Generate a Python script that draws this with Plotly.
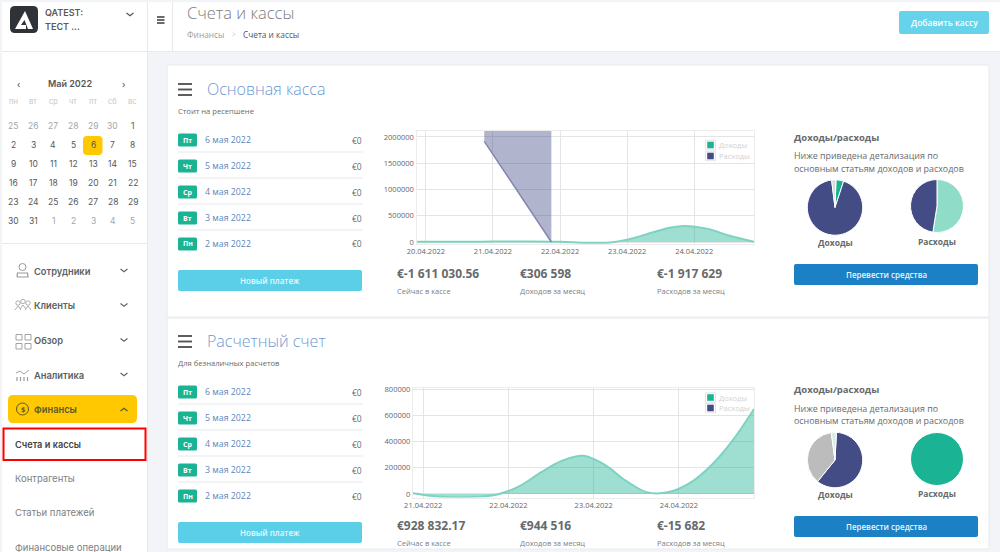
import plotly.graph_objects as go

W, H = 1000, 552

# ---------- data ----------
chart1_ticks = [20, 21, 22, 23, 24]
chart1_ticktext = ["20.04.2022", "21.04.2022", "22.04.2022", "23.04.2022", "24.04.2022"]
chart1_yticks = [0, 500000, 1000000, 1500000, 2000000]
chart1_income_x = [19.85, 20.5, 21.0, 21.5, 22.0, 22.4, 22.75, 23.0, 23.4, 23.65, 23.85, 24.2, 24.5, 24.89]
chart1_income_y = [3000, 5000, 8000, 10000, 5000, -12000, -8000, 45000, 190000, 275000, 305000, 250000, 130000, 5000]
chart1_expense_x = [20.87, 21.87]
chart1_expense_y = [1917629, 0]
chart1_expense_top = [2400000, 2400000]

chart2_ticks = [21, 22, 23, 24]
chart2_ticktext = ["21.04.2022", "22.04.2022", "23.04.2022", "24.04.2022"]
chart2_yticks = [0, 200000, 400000, 600000, 800000]
chart2_income_x = [20.88, 21.13, 21.38, 21.63, 21.88, 22.13, 22.38, 22.63, 22.88, 23.13, 23.38, 23.63, 23.88, 24.13, 24.38, 24.63, 24.88]
chart2_income_y = [5000, -18000, -27000, -22000, -2000, 60000, 165000, 255000, 292000, 222000, 100000, 12000, 15000, 85000, 220000, 410000, 650000]

pie_labels_a = ["Статья 1", "Статья 2", "Статья 3"]
pie1_income = [4.5, 93, 2.5]
pie1_expense = [52.5, 47.5]
pie2_income = [60, 37, 3]
pie2_expense = [100]

weekdays = ["пн", "вт", "ср", "чт", "пт", "сб", "вс"]
calendar_rows = [
    [25, 26, 27, 28, 29, 30, 1],
    [2, 3, 4, 5, 6, 7, 8],
    [9, 10, 11, 12, 13, 14, 15],
    [16, 17, 18, 19, 20, 21, 22],
    [23, 24, 25, 26, 27, 28, 29],
    [30, 31, 1, 2, 3, 4, 5],
]
menu_main = ["Сотрудники", "Клиенты", "Обзор", "Аналитика"]
menu_sub = ["Контрагенты", "Статьи платежей", "Финансовые операции"]
day_badges = ["Пт", "Чт", "Ср", "Вт", "Пн"]
day_dates = ["6 мая 2022", "5 мая 2022", "4 мая 2022", "3 мая 2022", "2 мая 2022"]
panel1_stats = ["€-1 611 030.56", "€306 598", "€-1 917 629"]
panel2_stats = ["€928 832.17", "€944 516", "€-15 682"]
stat_labels = ["Сейчас в кассе", "Доходов за месяц", "Расходов за месяц"]

# ---------- colours ----------
GREEN, NAVY = "#1ab394", "#434c85"
CYAN, BLUE = "#5bcfe8", "#1b80c4"
YELLOW = "#ffc800"
TXT, LINK = "#676a6c", "#5b88bd"
BG, BORDER = "#f3f4f8", "#e7eaec"
GREEN_FILL, GREEN_LINE = "rgba(26,179,148,0.42)", "#7dd3bf"
NAVY_FILL, NAVY_LINE = "rgba(67,76,133,0.42)", "#8487b0"
SANS, UI = "Open Sans", "Inter"

shapes, notes = [], []
px = lambda v: v / W
py = lambda v: 1 - v / H


def rect(x0, y0, x1, y1, fill=None, line=None, lw=1, layer="below"):
    shapes.append(dict(type="rect", xref="paper", yref="paper", x0=px(x0), x1=px(x1), y0=py(y0), y1=py(y1),
                       fillcolor=fill or "rgba(0,0,0,0)", line=dict(color=line or "rgba(0,0,0,0)", width=lw if line else 0),
                       layer=layer))


def rrect(x0, y0, x1, y1, r, fill):
    a, b, c, d = px(x0), px(x1), py(y0), py(y1)
    rx, ry = r / W, r / H
    path = (f"M{a + rx},{c} L{b - rx},{c} Q{b},{c} {b},{c - ry} L{b},{d + ry} Q{b},{d} {b - rx},{d} "
            f"L{a + rx},{d} Q{a},{d} {a},{d + ry} L{a},{c - ry} Q{a},{c} {a + rx},{c} Z")
    shapes.append(dict(type="path", xref="paper", yref="paper", path=path, fillcolor=fill, line=dict(width=0), layer="below"))


def poly(points, color="#888", lw=1.2, fill=None, close=False):
    s = "M" + " L".join(f"{px(x)},{py(y)}" for x, y in points) + (" Z" if close else "")
    shapes.append(dict(type="path", xref="paper", yref="paper", path=s, fillcolor=fill or "rgba(0,0,0,0)",
                       line=dict(color=color, width=lw if lw else 0), layer="below"))


def ring(cx, cy, r, color="#999", lw=1, fill=None):
    shapes.append(dict(type="circle", xref="paper", yref="paper", x0=px(cx - r), x1=px(cx + r), y0=py(cy - r), y1=py(cy + r),
                       fillcolor=fill or "rgba(0,0,0,0)", line=dict(color=color, width=lw), layer="below"))


def text(x, y, s, size=8, color=TXT, anchor="left", bold=False, family=SANS, weight=None):
    nudge = {"left": -1, "right": 1, "center": 0}[anchor]
    notes.append(dict(xref="paper", yref="paper", x=px(x + nudge), y=py(y), text=s, showarrow=False, xanchor=anchor, yanchor="middle",
                      borderpad=0, font=dict(size=size, color=color, family=family, weight=weight or (700 if bold else 400))))


def chevron(x, y, up=False, color="#666"):
    d = -2 if up else 2
    poly([(x - 3.5, y - d / 2 * 1), (x, y + d * 0.9), (x + 3.5, y - d / 2 * 1)], color=color, lw=1.2)


def burger(x0, x1, ys, t, color):
    for y in ys:
        rect(x0, y - t / 2, x1, y + t / 2, fill=color)


# ---------- page frame ----------
rect(0, 0, 1000, 552, fill=BG)
rect(2, 2, 147, 552, fill="#ffffff")
rect(148, 2, 1000, 51, fill="#ffffff")
rect(147, 2, 148, 552, fill=BORDER)
rect(172, 2, 173, 51, fill=BORDER)
rect(2, 51, 1000, 52, fill=BORDER)
rect(2, 243, 147, 244, fill=BORDER)

# logo and header
rrect(10, 6, 38, 33, 5, "#2f3337")
poly([(25, 11), (33, 29), (28, 29), (24.5, 20), (21, 25), (26, 25), (26, 29), (15, 29)], color="#ffffff", lw=0, fill="#ffffff", close=True)
text(45, 13, "QATEST:", 9, "#5a5a5a", weight=600, family=UI)
text(45, 27, "ТЕСТ ...", 9, "#5a5a5a", weight=600, family=UI)
chevron(130, 14, color="#555")
burger(157, 164.5, [17, 20, 23], 1.6, "#444")
text(187, 13, "Счета и кассы", 16.5, "#7b7e80", weight=300)
text(187, 34.5, "Финансы", 8.3, "#9a9c9e")
text(232, 34.5, ">", 7, "#c5c5c5")
text(243, 34.5, "Счета и кассы", 8.3, "#555")
rrect(899, 11, 989, 34, 2, "#66d3ea")
text(944, 22.5, "Добавить кассу", 8.5, "#ffffff", anchor="center", weight=600)

# calendar
text(70, 83, "Май 2022", 9, "#555", anchor="center", weight=600, family=UI)
text(18, 83, "‹", 11, "#555", anchor="center")
text(123, 83, "›", 11, "#555", anchor="center")
cal_x = [13.3, 33, 53, 73, 93, 112.6, 132.5]
cal_y = [126, 145, 164, 183, 202, 221]
for cx, w in zip(cal_x, weekdays):
    text(cx, 101, w, 7.5, "#c4c6c8", anchor="center", family=UI)
rrect(83, 136, 102.5, 155, 4, YELLOW)
for r, row in enumerate(calendar_rows):
    for c, d in enumerate(row):
        muted = (r == 0 and d > 20) or (r == 5 and d < 10)
        text(cal_x[c], cal_y[r], str(d), 8.5, "#a4a6a8" if muted else "#55585c", anchor="center", family=UI)

# sidebar menu
for s, y in zip(menu_main, [271, 305.5, 340.5, 375]):
    text(34, y, s, 9.3, "#5c5f63", weight=600, family=UI)
    chevron(124, y - 1)
ring(22.5, 267, 3.5, "#999")
poly([(17, 277), (17.5, 273), (27.5, 273), (28, 277), (17, 277)], "#999")
for cx, cy in [(18, 303), (23, 301.5), (28, 303)]:
    ring(cx, cy, 2.2, "#999", 0.8)
poly([(15, 310), (18, 306), (21, 310)], "#999", 0.8)
poly([(20, 309), (23, 305), (26, 309)], "#999", 0.8)
poly([(25, 310), (28, 306), (31, 310)], "#999", 0.8)
for x0, y0 in [(16, 335), (25, 335), (16, 344), (25, 344)]:
    rect(x0, y0 - 0.5, x0 + 6, y0 + 5, line="#999", lw=0.9)
poly([(16, 373), (20, 371), (24, 374), (29, 370)], "#999", 0.9)
for x0 in [17, 20.5, 24, 27.5]:
    poly([(x0, 377), (x0, 381)], "#999", 1.2)
rrect(8, 395, 137, 423, 5, YELLOW)
text(34, 409, "Финансы", 9.3, "#5c5a30", weight=600, family=UI)
chevron(124, 410, up=True, color="#5c5a30")
ring(22.5, 409, 6, "#5c5a30", 1)
text(22.5, 409, "$", 7.5, "#5c5a30", anchor="center", bold=True)
rect(3.5, 428.5, 145.5, 460, line="#ff0000", lw=2)
text(15, 444, "Счета и кассы", 9.2, "#444", weight=600, family=UI)
for s, y in zip(menu_sub, [478, 512, 547]):
    text(15, y, s, 9.5, "#7d8084", family=UI)


# panels
def panel(top, bottom, title, sub, stats, row0, dy):
    rect(167, top, 989, bottom, fill="#ffffff", line=BORDER, lw=1)
    burger(178, 192, [84 + dy, 89.5 + dy, 95 + dy], 1.9, "#555")
    text(207, 89 + dy, title, 16, "#6d99cf", weight=300)
    text(178, 111 + dy, sub, 7.6, TXT)
    for i in range(5):
        y = row0 + i * 26
        rrect(178, y - 6.5, 197, y + 6.5, 1.5, GREEN)
        text(187.5, y, day_badges[i], 7, "#ffffff", anchor="center", bold=True)
        text(205, y, day_dates[i], 8.8, LINK)
        text(362, y, "€0", 8.5, TXT, anchor="right")
        if i < 4:
            rect(178, y + 11.5, 363, y + 12.5, fill=BORDER)
    rrect(178, 270 + dy, 362, 291 + dy, 2, CYAN)
    text(270, 280.5 + dy, "Новый платеж", 8, "#e8f9fc", anchor="center", weight=600)
    for x, st, lab in zip([397, 520, 657], stats, stat_labels):
        text(x, 273 + dy, st, 12, TXT, bold=True)
        text(x, 290.5 + dy, lab, 7.5, "#7d8082")
    text(794, 137 + dy, "Доходы/расходы", 9.5, TXT, bold=True)
    text(794, 156 + dy, "Ниже приведена детализация по", 8.9, TXT)
    text(794, 168 + dy, "основным статьям доходов и расходов", 8.9, TXT)
    text(835, 242.5 + dy, "Доходы", 8.5, TXT, anchor="center", bold=True)
    text(937, 241 + dy, "Расходы", 8.5, TXT, anchor="center", bold=True)
    rrect(794, 264 + dy, 978, 285 + dy, 2, BLUE)
    text(886, 274.5 + dy, "Перевести средства", 8, "#e8f3fa", anchor="center", weight=600)


panel(65, 317, "Основная касса", "Стоит на ресепшене", panel1_stats, 140, 0)
panel(318, 549, "Расчетный счет", "Для безналичных расчетов", panel2_stats, 392, 252)


def legend(x0, y0, y1):
    for y, col, lab in [(y0, GREEN, "Доходы"), (y1, NAVY, "Расходы")]:
        rect(x0, y - 4.7, x0 + 10, y + 4.7, fill="#ffffff", line="#dddddd", lw=0.8, layer="above")
        rect(x0 + 1.7, y - 3.3, x0 + 8.3, y + 3.3, fill=col, layer="above")
        text(x0 + 13, y, lab, 7.5, "#d2d2d2")


legend(705.5, 145, 156)
legend(705.5, 397.5, 408)

# ---------- traces ----------
fig = go.Figure()


def area(x, y, axes, name):
    fig.add_trace(go.Scatter(x=x, y=y, mode="lines", line=dict(color=GREEN_LINE, width=2, shape="spline", smoothing=1),
                             fill="tozeroy", fillcolor=GREEN_FILL, name=name, xaxis=axes[0], yaxis=axes[1], showlegend=False))


area(chart1_income_x, chart1_income_y, ("x", "y"), "Доходы")
fig.add_trace(go.Scatter(x=chart1_expense_x, y=chart1_expense_top, mode="lines", line=dict(width=0), xaxis="x", yaxis="y",
                         showlegend=False, hoverinfo="skip"))
fig.add_trace(go.Scatter(x=chart1_expense_x, y=chart1_expense_y, mode="lines", line=dict(color=NAVY_LINE, width=1.5),
                         fill="tonexty", fillcolor=NAVY_FILL, name="Расходы", xaxis="x", yaxis="y", showlegend=False))
area(chart2_income_x, chart2_income_y, ("x2", "y2"), "Доходы")


def pie(values, colors, labels, cx, cy, r, rotation):
    fig.add_trace(go.Pie(values=values, labels=labels, sort=False, direction="clockwise", rotation=rotation, textinfo="none",
                         marker=dict(colors=colors, line=dict(color="#ffffff", width=1)), showlegend=False,
                         domain=dict(x=[px(cx - r), px(cx + r)], y=[py(cy + r), py(cy - r)])))


pie(pie1_income, [GREEN, NAVY, "#d9dadb"], pie_labels_a, 835, 207.5, 27.7, 2)
pie(pie1_expense, ["#8fdcc8", NAVY], pie_labels_a[:2], 937, 206, 26.5, 0)
pie(pie2_income, [NAVY, "#bcbcbc", "#d5efe8"], pie_labels_a, 835, 460, 27.7, 3)
pie(pie2_expense, [GREEN], pie_labels_a[:1], 937, 459, 26.5, 0)


def xaxis(dom, rng, ticks, labels, anchor):
    return dict(domain=[px(dom[0]), px(dom[1])], range=rng, tickvals=ticks, ticktext=labels, anchor=anchor, showgrid=True,
                gridcolor="#e4e4e4", gridwidth=1.2, zeroline=False, showline=True, linecolor="#ececec", linewidth=1.4, mirror=True,
                ticks="", tickfont=dict(size=7.5, color="#666", family=SANS), fixedrange=True)


def yaxis(dom, rng, ticks, anchor):
    return dict(domain=[py(dom[1]), py(dom[0])], range=rng, tickvals=ticks, anchor=anchor, showgrid=True, gridcolor="#e4e4e4",
                gridwidth=1.2, zeroline=False, showline=True, linecolor="#ececec", linewidth=1.4, mirror=True, ticks="",
                tickformat="d", tickfont=dict(size=7.5, color="#666", family=SANS), fixedrange=True)


fig.update_layout(
    width=W, height=H, margin=dict(l=0, r=0, t=0, b=0, pad=0, autoexpand=False), paper_bgcolor="#ffffff", plot_bgcolor="rgba(0,0,0,0)",
    showlegend=False, shapes=shapes, annotations=notes,
    xaxis=xaxis((416.5, 754), [19.86, 24.89], chart1_ticks, chart1_ticktext, "y"),
    yaxis=yaxis((131, 244), [-38000, 2114000], chart1_yticks, "x"),
    xaxis2=xaxis((413, 754), [20.88, 24.88], chart2_ticks, chart2_ticktext, "y2"),
    yaxis2=yaxis((388, 497.5), [-27000, 810000], chart2_yticks, "x2"),
)

fig.write_html("out.html", config=dict(displayModeBar=False),
               post_script="document.body.style.margin='0';document.documentElement.style.overflow='hidden';")
